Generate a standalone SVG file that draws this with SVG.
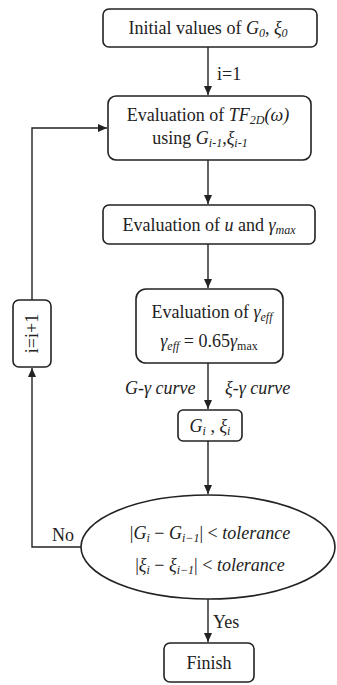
<svg xmlns="http://www.w3.org/2000/svg" width="337" height="685" viewBox="0 0 337 685" font-family="'Liberation Serif', 'Times New Roman', 'DejaVu Serif', serif">
<style>
.box{fill:#fff;stroke:#222;stroke-width:1.6}
.ln{fill:none;stroke:#222;stroke-width:1.4}
text{font-family:'Liberation Serif','Times New Roman','DejaVu Serif',serif;font-size:18px;fill:#222}
.c{text-anchor:middle}
.i{font-style:italic}
.s{font-size:12px;baseline-shift:-22%}
</style>
<defs>
<marker id="ah" markerWidth="10" markerHeight="10" refX="9" refY="5" orient="auto" markerUnits="userSpaceOnUse">
<path d="M0,1 L9,5 L0,9 Z" fill="#222"/>
</marker>
</defs>
<rect width="337" height="685" fill="#fff"/>
<g id="connectors">
<line class="ln" x1="208" y1="47" x2="208" y2="95" marker-end="url(#ah)"/>
<text x="217" y="80">i=1</text>
<line class="ln" x1="208" y1="160" x2="208" y2="204" marker-end="url(#ah)"/>
<line class="ln" x1="208" y1="244" x2="208" y2="288" marker-end="url(#ah)"/>
<line class="ln" x1="208" y1="363" x2="208" y2="409" marker-end="url(#ah)"/>
<text x="125" y="394" class="i">G-γ curve</text>
<text x="225" y="394" class="i">ξ-γ curve</text>
<line class="ln" x1="208" y1="441" x2="208" y2="494" marker-end="url(#ah)"/>
<line class="ln" x1="208" y1="599" x2="208" y2="642" marker-end="url(#ah)"/>
<text x="213" y="628">Yes</text>
<polyline class="ln" points="81,547 32,547 32,368" marker-end="url(#ah)"/>
<polyline class="ln" points="32,300 32,128 107,128" marker-end="url(#ah)"/>
<text x="52" y="541">No</text>
</g>
<g id="n_init">
<rect class="box" x="103" y="9" width="214" height="38" rx="6"/>
<text x="208" y="34" class="c">Initial values of <tspan class="i">G</tspan><tspan class="i s">0</tspan>, <tspan class="i">ξ</tspan><tspan class="i s">0</tspan></text>
</g>
<g id="n_tf">
<rect class="box" x="108" y="96" width="203" height="64" rx="8"/>
<text x="208" y="121" class="c">Evaluation of <tspan class="i">TF</tspan><tspan class="i s">2D</tspan><tspan class="i">(ω)</tspan></text>
<text x="200" y="144" class="c">using <tspan class="i">G</tspan><tspan class="i s">i-1</tspan>,<tspan class="i">ξ</tspan><tspan class="i s">i-1</tspan></text>
</g>
<g id="n_u">
<rect class="box" x="103" y="205" width="212" height="39" rx="6"/>
<text x="209" y="231" class="c">Evaluation of <tspan class="i">u</tspan> and <tspan class="i">γ</tspan><tspan class="i s">max</tspan></text>
</g>
<g id="n_eff">
<rect class="box" x="136" y="289" width="147" height="74" rx="10"/>
<text x="212" y="318" class="c">Evaluation of <tspan class="i">γ</tspan><tspan class="i s">eff</tspan></text>
<text x="209" y="347" class="c"><tspan class="i">γ</tspan><tspan class="i s">eff</tspan> = 0.65<tspan class="i">γ</tspan><tspan class="s">max</tspan></text>
</g>
<g id="n_gi">
<rect class="box" x="178" y="410" width="64" height="31" rx="5"/>
<text x="210" y="432" class="c"><tspan class="i">G</tspan><tspan class="i s">i</tspan> , <tspan class="i">ξ</tspan><tspan class="i s">i</tspan></text>
</g>
<g id="n_check">
<ellipse class="box" cx="208" cy="547" rx="127" ry="52"/>
<text x="210" y="539" class="c">|<tspan class="i">G</tspan><tspan class="i s">i</tspan> − <tspan class="i">G</tspan><tspan class="i s">i−1</tspan>| &lt; <tspan class="i">tolerance</tspan></text>
<text x="210" y="571" class="c">|<tspan class="i">ξ</tspan><tspan class="i s">i</tspan> − <tspan class="i">ξ</tspan><tspan class="i s">i−1</tspan>| &lt; <tspan class="i">tolerance</tspan></text>
</g>
<g id="n_inc">
<rect class="box" x="13" y="300" width="38" height="67" rx="6"/>
<text x="0" y="0" class="c" transform="translate(38,333.5) rotate(-90)">i=i+1</text>
</g>
<g id="n_finish">
<rect class="box" x="164" y="643" width="90" height="39" rx="6"/>
<text x="209" y="669" class="c">Finish</text>
</g>
</svg>
